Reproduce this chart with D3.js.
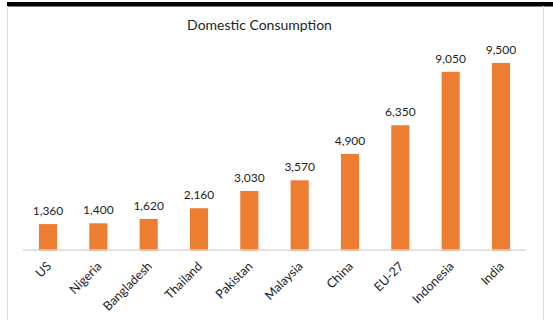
<!DOCTYPE html>
<html>
<head>
<meta charset="utf-8">
<script src="https://cdn.jsdelivr.net/npm/d3@7"></script>
<style>
  html, body { margin: 0; padding: 0; background: #ffffff; }
  svg { display: block; }
  text { font-family: Lato, "Open Sans", sans-serif; fill: #1e1e1e; }
</style>
</head>
<body>
<svg id="chart" width="553" height="320"></svg>
<script>
// Domestic consumption by country
const categories = ["US", "Nigeria", "Bangladesh", "Thailand", "Pakistan", "Malaysia", "China", "EU-27", "Indonesia", "India"];
const consumption = [1360, 1400, 1620, 2160, 3030, 3570, 4900, 6350, 9050, 9500];
const chartTitle = "Domestic Consumption";

const svg = d3.select("#chart");
const W = 553, H = 320;

// frame: dark strip across the top, thin grey borders left and right
svg.append("rect").attr("x", 7).attr("y", 2).attr("width", W - 7).attr("height", 4.5).attr("fill", "#000");
svg.append("line").attr("x1", 7.5).attr("x2", 7.5).attr("y1", 6).attr("y2", H)
  .attr("stroke", "#dcdcdc").attr("stroke-width", 1.2);
svg.append("line").attr("x1", 543.5).attr("x2", 543.5).attr("y1", 6).attr("y2", H)
  .attr("stroke", "#dcdcdc").attr("stroke-width", 1.2);

const x = d3.scaleBand().domain(categories).range([23, 526]).paddingInner(0.64).paddingOuter(0.317);
const y = d3.scaleLinear().domain([0, 10000]).range([251, 53]);

const data = categories.map((c, i) => ({ c, v: consumption[i] }));

// bars
svg.append("g").selectAll("rect").data(data).join("rect")
  .attr("x", d => x(d.c))
  .attr("y", d => y(d.v))
  .attr("width", x.bandwidth())
  .attr("height", d => y(0) - y(d.v))
  .attr("fill", "#ED7D31");

// category axis
const xAxis = svg.append("g").attr("transform", `translate(0,${y(0) - 1})`)
  .call(d3.axisBottom(x).tickSize(0).tickPadding(0));
xAxis.select(".domain").attr("stroke", "#d9d9d9").attr("stroke-width", 1.5)
  .attr("d", `M23,0H526`);
xAxis.selectAll(".tick text")
  .attr("font-family", "Lato, 'Open Sans', sans-serif")
  .attr("font-size", 12.5)
  .attr("fill", "#1e1e1e")
  .attr("text-anchor", "end")
  .attr("dy", 0)
  .attr("transform", "translate(4,17) rotate(-45)");

// value labels
const fmt = d3.format(",");
svg.append("g").selectAll("text").data(data).join("text")
  .attr("x", d => x(d.c) + x.bandwidth() / 2)
  .attr("y", d => y(d.v) - 9)
  .attr("text-anchor", "middle")
  .attr("font-size", 12)
  .text(d => fmt(d.v));

// title
svg.append("text")
  .attr("x", 259.5).attr("y", 30)
  .attr("text-anchor", "middle")
  .attr("font-size", 14)
  .text(chartTitle);
</script>
</body>
</html>
